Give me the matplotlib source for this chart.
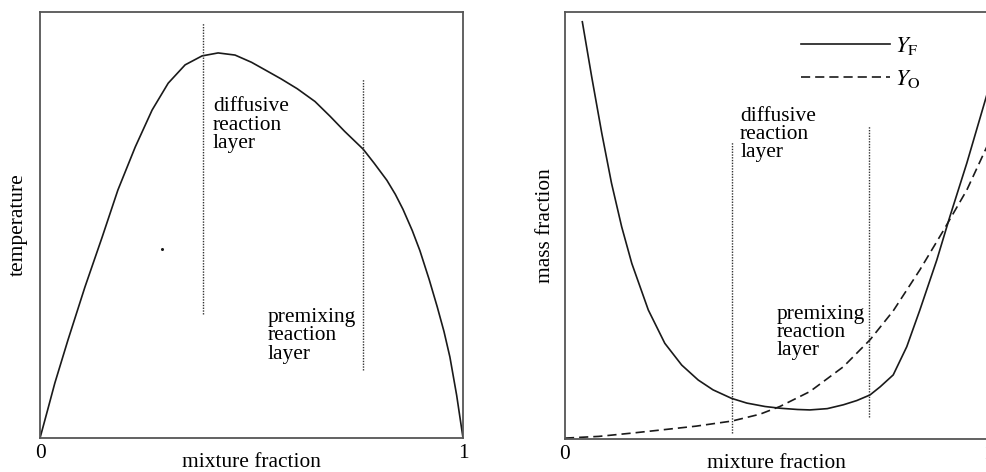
#! /usr/bin/env python3

"""
Temperature and mass fraction over mixture fraction, two panels, saved to out.png.
"""

import matplotlib.pyplot as plt

# left panel: temperature profile
T_X = [0.0, 0.018, 0.035, 0.066, 0.106, 0.147, 0.184, 0.225, 0.265, 0.303, 0.343, 0.383,
       0.421, 0.461, 0.50, 0.536, 0.57, 0.608, 0.65, 0.686, 0.72, 0.764, 0.79, 0.82, 0.84,
       0.858, 0.88, 0.898, 0.92, 0.939, 0.955, 0.969, 0.985, 1.0]
T_Y = [0.0, 0.066, 0.129, 0.23, 0.354, 0.472, 0.582, 0.683, 0.77, 0.833, 0.876, 0.897,
       0.904, 0.899, 0.882, 0.862, 0.843, 0.82, 0.79, 0.755, 0.72, 0.678, 0.645, 0.605, 0.572,
       0.537, 0.487, 0.44, 0.372, 0.308, 0.25, 0.19, 0.1, 0.0]
T_DOT = ([0.289], [0.444])

# right panel: fuel and oxidiser mass fractions
YF_X = [0.041, 0.063, 0.087, 0.110, 0.134, 0.158, 0.197, 0.236, 0.276, 0.315, 0.35, 0.394,
        0.43, 0.473, 0.508, 0.55, 0.579, 0.62, 0.658, 0.69, 0.721, 0.745, 0.776, 0.808, 0.839,
        0.879, 0.910, 0.950, 1.0]
YF_Y = [0.977, 0.849, 0.716, 0.599, 0.497, 0.411, 0.302, 0.224, 0.173, 0.138, 0.115, 0.095,
        0.084, 0.076, 0.072, 0.069, 0.068, 0.071, 0.080, 0.090, 0.103, 0.122, 0.150, 0.216,
        0.302, 0.419, 0.521, 0.646, 0.815]
YO_X = [0.0, 0.08, 0.161, 0.236, 0.31, 0.395, 0.461, 0.508, 0.579, 0.658, 0.721, 0.776,
        0.839, 0.894, 0.95, 1.0]
YO_Y = [0.002, 0.006, 0.014, 0.022, 0.03, 0.042, 0.058, 0.076, 0.111, 0.169, 0.232, 0.30,
        0.396, 0.487, 0.583, 0.69]

# reaction layer markers: (x, y_bottom, y_top)
LEFT_LAYERS = [(0.386, 0.291, 0.975), (0.764, 0.16, 0.843)]
RIGHT_LAYERS = [(0.395, 0.014, 0.696), (0.719, 0.052, 0.733)]

FS = 15.4
INK = '#1a1a1a'


def style_axes(ax, ylabel, ylabel_x):
    """Box frame, only 0 and 1 on the x axis"""
    ax.set_xlim(0, 1)
    ax.set_ylim(0, 1)
    ax.set_xticks([0, 1], ['0', '1'])
    ax.set_yticks([])
    ax.tick_params(axis='x', length=0, pad=4, labelsize=FS)
    for spine in ax.spines.values():
        spine.set_color('#555555')
        spine.set_linewidth(1.3)
    ax.set_xlabel('mixture fraction', fontsize=FS)
    ax.xaxis.set_label_coords(0.5, -0.036)
    ax.set_ylabel(ylabel, fontsize=FS)
    ax.yaxis.set_label_coords(ylabel_x, 0.5)


def main() -> None:
    """Main entry-point for script"""
    plt.rcParams['font.family'] = ['Liberation Serif', 'DejaVu Serif']
    plt.rcParams['mathtext.fontset'] = 'stix'
    plt.rcParams['lines.solid_joinstyle'] = 'round'
    plt.rcParams['lines.dash_joinstyle'] = 'round'

    fig = plt.figure(figsize=(9.86, 4.72), dpi=100)
    ax1 = fig.add_axes([0.0406, 0.072, 0.429, 0.9025])
    ax2 = fig.add_axes([0.573, 0.070, 0.429, 0.9047])

    # left
    ax1.plot(T_X, T_Y, color=INK, lw=1.2)
    ax1.plot(*T_DOT, 'o', color=INK, ms=1.2)
    for x, y0, y1 in LEFT_LAYERS:
        ax1.vlines(x, y0, y1, color='#333333', lw=1.0, linestyles=(0, (1, 1)))
    ax1.text(0.409, 0.80, 'diffusive\nreaction\nlayer', fontsize=FS, va='top', ha='left',
             linespacing=0.95)
    ax1.text(0.537, 0.305, 'premixing\nreaction\nlayer', fontsize=FS, va='top', ha='left',
             linespacing=0.95)
    style_axes(ax1, 'temperature', -0.03)

    # right
    ax2.plot(YF_X, YF_Y, color=INK, lw=1.2, label=r'$Y_{\mathrm{F}}$')
    ax2.plot(YO_X, YO_Y, color=INK, lw=1.2, dashes=(5.5, 3), label=r'$Y_{\mathrm{O}}$')
    for x, y0, y1 in RIGHT_LAYERS:
        ax2.vlines(x, y0, y1, color='#333333', lw=1.0, linestyles=(0, (1, 1)))
    ax2.text(0.414, 0.778, 'diffusive\nreaction\nlayer', fontsize=FS, va='top', ha='left',
             linespacing=0.95)
    ax2.text(0.501, 0.314, 'premixing\nreaction\nlayer', fontsize=FS, va='top', ha='left',
             linespacing=0.95)
    ax2.legend(loc='upper left', bbox_to_anchor=(0.558, 0.945), frameon=False, fontsize=16.5,
               handlelength=3.9, handletextpad=0.2, labelspacing=0.45, borderpad=0,
               borderaxespad=0)
    style_axes(ax2, 'mass fraction', -0.024)

    fig.savefig('out.png', dpi=100)


if __name__ == '__main__':
    main()
